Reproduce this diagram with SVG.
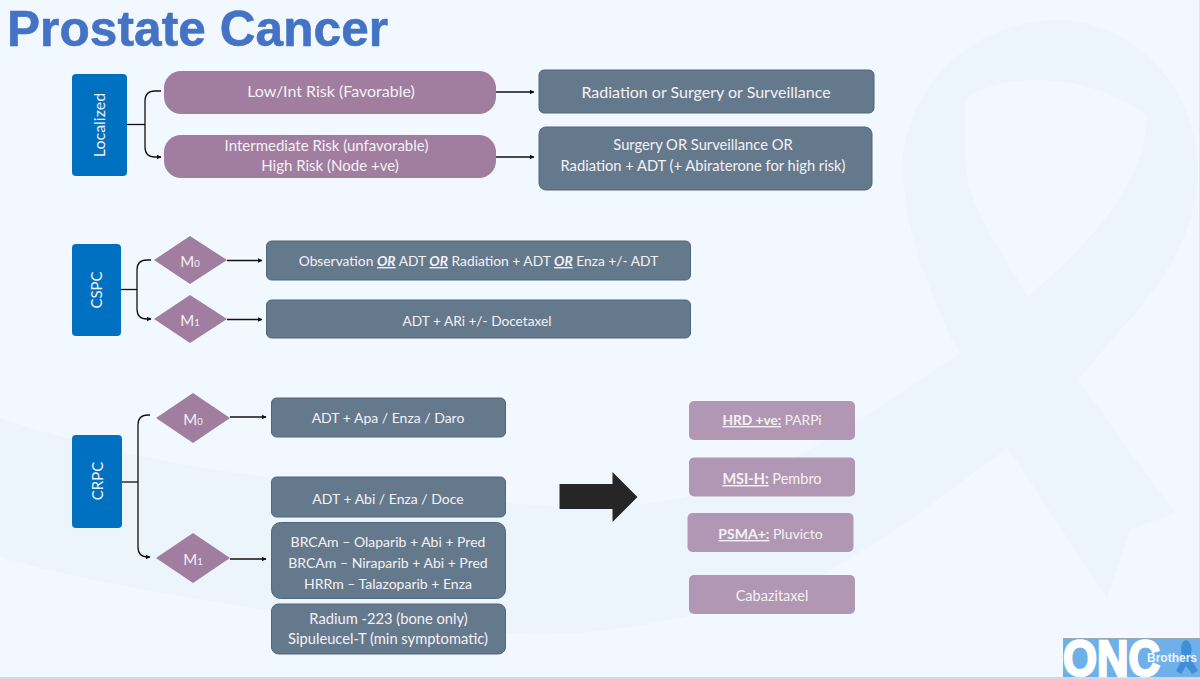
<svg xmlns="http://www.w3.org/2000/svg" width="1200" height="679" viewBox="0 0 1200 679">
<style>
text{font-family:Lato,"Liberation Sans",sans-serif;fill:#f4f1f6;text-anchor:middle;font-size:14.500px}
.title{font-family:"Liberation Sans",Arial,sans-serif;font-weight:700;font-size:49.500px;fill:#4472c4;stroke:#4472c4;stroke-width:.6;text-anchor:start;letter-spacing:.1px}
.blue{fill:#0070c0}
.pur{fill:#a17da0}
.lil{fill:#b197b3}
.sl{fill:#65798c;stroke:#51667a;stroke-width:1}
.c{fill:none;stroke:#111;stroke-width:1.300;marker-end:url(#a)}
.l{fill:none;stroke:#111;stroke-width:1.300}
.b{font-weight:700;text-decoration:underline}
.bi{font-weight:700;font-style:italic;text-decoration:underline}
.s16{font-size:16px}
.s15{font-size:15px}
.s14{font-size:14px}
.s138{font-size:13.700px}
.sub{font-size:9.500px}
.logo{font-family:"Liberation Sans",sans-serif;font-weight:700;text-anchor:start}
</style>
<defs><marker id="a" markerWidth="6" markerHeight="6" refX="4.500" refY="2.500" orient="auto" markerUnits="userSpaceOnUse"><path d="M0 0L5 2.500L0 5z" fill="#111"/></marker></defs>
<rect width="1200" height="679" fill="#f2f8ff"/>
<g id="background" fill="#ecf4fc">
<path fill-rule="evenodd" d="M952 340C925 280 903 225 903 165C905 85 975 20 1057 20C1130 20 1198 85 1198 170C1198 235 1155 295 1120 330L1078 380L1175 513L1130 530L1107 598L1008 448C950 490 900 530 860 552C810 585 760 605 700 613C640 628 570 638 506 633C420 625 340 625 268 610C170 595 80 580 0 557V418C80 445 170 465 268 477C350 495 430 507 506 503C580 508 640 510 700 493C760 480 810 450 860 420L960 353zM965 100C985 85 1010 80 1037 80C1080 80 1120 95 1147 115C1147 180 1090 245 1028 296C1000 250 967 205 965 160z"/>
<rect x="0" y="677" width="1200" height="2" fill="#d5d9de"/>
<rect x="1199" y="0" width="1" height="679" fill="#e2e6ec"/>
</g>
<text class="title" x="7" y="46">Prostate Cancer</text>
<g id="connectors">
<path class="l" d="M127 124.500H145"/>
<path class="c" d="M161 91H155Q145 91 145 101V147Q145 157 155 157H161"/>
<path class="c" d="M496 92H534"/>
<path class="c" d="M496 157H534"/>
<path class="l" d="M121 289.500H137"/>
<path class="c" d="M151 260H147Q137 260 137 270V309Q137 319 147 319H151"/>
<path class="c" d="M227 260.500H262"/>
<path class="c" d="M227 319.500H262"/>
<path class="l" d="M122 482H138"/>
<path class="c" d="M150 415H148Q138 415 138 425V547Q138 557 148 557H150"/>
<path class="c" d="M230 417H266"/>
<path class="c" d="M230 559H266"/>
</g>
<g id="localized"><rect class="blue" x="72" y="74" width="55" height="102" rx="4"/><text class="s16" transform="translate(105,125) rotate(-90)">Localized</text></g>
<g id="low-int"><rect class="pur" x="164" y="71" width="332" height="43" rx="17"/><text class="s16" x="331" y="97">Low/Int Risk (Favorable)</text></g>
<g id="intermediate"><rect class="pur" x="164" y="135" width="332" height="43" rx="17"/><text class="s15" x="326.500" y="151">Intermediate Risk (unfavorable)</text><text class="s15" x="330" y="171">High Risk (Node +ve)</text></g>
<g id="radiation"><rect class="sl" x="539" y="70" width="335" height="43" rx="5"/><text class="s16" x="706" y="98">Radiation or Surgery or Surveillance</text></g>
<g id="surgery"><rect class="sl" x="539" y="127" width="333" height="63" rx="7"/><text x="703" y="150" style="font-size:14.700px">Surgery OR Surveillance OR</text><text x="703" y="171" style="font-size:14.700px">Radiation + ADT (+ Abiraterone for high risk)</text></g>
<g id="cspc"><rect class="blue" x="72" y="244" width="49" height="92" rx="4"/><text class="s15" transform="translate(102,290) rotate(-90)">CSPC</text></g>
<g id="cspc-m0"><path class="pur" d="M190 236L227 260L190 284L154 260z"/><text class="s15" x="190" y="267">M<tspan class="sub">0</tspan></text></g>
<g id="cspc-m1"><path class="pur" d="M190 295L227 319L190 343L154 319z"/><text class="s15" x="190" y="326">M<tspan class="sub">1</tspan></text></g>
<g id="cspc-m0-tx"><rect class="sl" x="266.500" y="241" width="424" height="39" rx="5"/><text x="478.500" y="266" style="font-size:13.800px">Observation <tspan class="bi">OR</tspan> ADT <tspan class="bi">OR</tspan> Radiation + ADT <tspan class="bi">OR</tspan> Enza +/- ADT</text></g>
<g id="cspc-m1-tx"><rect class="sl" x="266.500" y="300" width="424" height="38" rx="5"/><text class="s138" x="477" y="326">ADT + ARi +/- Docetaxel</text></g>
<g id="crpc"><rect class="blue" x="72" y="435" width="50" height="93" rx="4"/><text class="s15" transform="translate(103,481) rotate(-90)">CRPC</text></g>
<g id="crpc-m0"><path class="pur" d="M193 393L230 418L193 443L156 418z"/><text class="s15" x="193" y="425">M<tspan class="sub">0</tspan></text></g>
<g id="crpc-m1"><path class="pur" d="M193 533L230 558L193 583L156 558z"/><text class="s15" x="193" y="565">M<tspan class="sub">1</tspan></text></g>
<g id="crpc-m0-tx"><rect class="sl" x="271.500" y="398" width="234" height="39" rx="5"/><text class="s14" x="388" y="423">ADT + Apa / Enza / Daro</text></g>
<g id="crpc-abi"><rect class="sl" x="271.500" y="477" width="234" height="40" rx="5"/><text class="s14" x="388" y="504">ADT + Abi / Enza / Doce</text></g>
<g id="crpc-parp"><rect class="sl" x="271.500" y="522.500" width="234" height="76" rx="9"/><text class="s14" x="388" y="547">BRCAm – Olaparib + Abi + Pred</text><text class="s14" x="388" y="568">BRCAm – Niraparib + Abi + Pred</text><text class="s14" x="388" y="589">HRRm – Talazoparib + Enza</text></g>
<g id="crpc-radium"><rect class="sl" x="271.500" y="604" width="234" height="50" rx="7"/><text x="388.500" y="624" style="font-size:14.700px">Radium -223 (bone only)</text><text x="388" y="644" style="font-size:14.700px">Sipuleucel-T (min symptomatic)</text></g>
<path id="big-arrow" d="M559.500 484H612.500V472L637.500 497L612.500 522V509H559.500z" fill="#262626"/>
<g id="hrd"><rect class="lil" x="689" y="401" width="166" height="39" rx="5"/><text class="s138" x="772" y="425"><tspan class="b">HRD +ve:</tspan> PARPi</text></g>
<g id="msi"><rect class="lil" x="689" y="457.500" width="166" height="39" rx="5"/><text x="772" y="484"><tspan class="b">MSI-H:</tspan> Pembro</text></g>
<g id="psma"><rect class="lil" x="687.500" y="513" width="166" height="39" rx="5"/><text class="s14" x="770.500" y="539"><tspan class="b">PSMA+:</tspan> Pluvicto</text></g>
<g id="caba"><rect class="lil" x="689" y="575" width="166" height="39" rx="5"/><text x="772" y="601">Cabazitaxel</text></g>
<g id="logo"><rect x="1063" y="638.500" width="137" height="38.500" fill="#6db0ea"/><rect x="1063" y="638" width="137" height="1.200" fill="#9aa8b8"/>
<path d="M1186 640C1180 642 1180 652 1183 658L1176 671L1181 674L1186 666L1192 674L1198 671L1190 657C1193 650 1192 642 1186 640z" fill="#3f8fd8"/>
<text class="logo" x="1063" y="675.500" textLength="97" lengthAdjust="spacingAndGlyphs" style="font-size:50px;fill:#fff;stroke:#fff;stroke-width:2.500">ONC</text>
<text class="logo" x="1147" y="662" style="font-size:12px;fill:#eef5fc">Brothers</text></g>
</svg>
